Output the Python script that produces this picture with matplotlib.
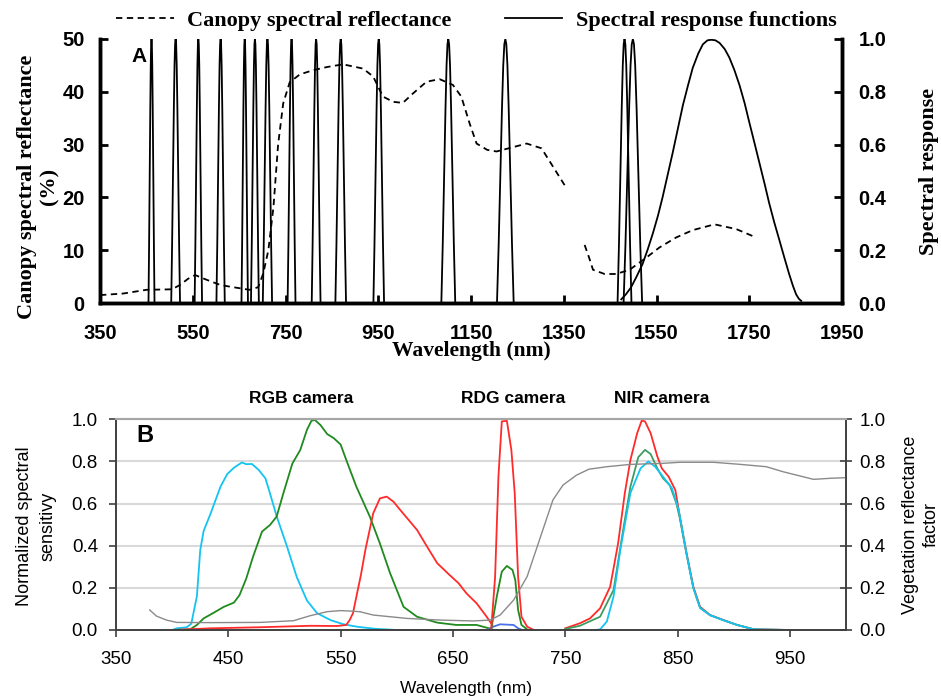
import numpy as np
import matplotlib
matplotlib.use('Agg')
import matplotlib.pyplot as plt
from matplotlib.lines import Line2D

# ---------------- panel A data ----------------
# canopy reflectance (%) - two segments, gap around the 1400 nm water band
refl_nm_1 = [350, 400, 450, 505, 522, 540, 555, 580, 610, 637, 673, 691, 702, 713, 724,
             734, 745, 759, 781, 810, 840, 874, 917, 939, 960, 982, 1003, 1025, 1054,
             1082, 1111, 1129, 1147, 1162, 1185, 1205, 1240, 1270, 1302, 1327, 1352]
refl_val_1 = [1.5, 1.8, 2.5, 2.6, 3.4, 4.6, 5.3, 4.4, 3.4, 3.0, 2.5, 3.0, 5.6, 10.0, 18.2,
              30.0, 37.8, 41.8, 43.3, 44.1, 44.7, 45.2, 44.4, 42.9, 39.1, 38.1, 37.9, 39.7, 41.9,
              42.4, 41.3, 39.1, 34.0, 30.2, 29.0, 28.7, 29.5, 30.2, 29.3, 25.8, 22.3]
refl_nm_2 = [1395, 1405, 1413, 1438, 1463, 1492, 1528, 1556, 1592, 1628, 1675, 1722, 1765]
refl_val_2 = [11.0, 8.5, 6.3, 5.5, 5.5, 6.3, 8.6, 10.5, 12.4, 13.8, 14.9, 14.0, 12.4]

# narrow spectral response functions: centres and base widths (nm)
band_centre = [461, 513, 562, 610, 662, 684, 711, 763, 816, 869, 951, 1101, 1224, 1481, 1499]
band_width = [13, 19, 16, 18, 14, 17, 20, 17, 19, 23, 23, 30, 36, 30, 40]
# shape of one narrow band (fraction of half width -> response)
shape_u = [-1.0, -0.8, -0.6, -0.4, -0.25, -0.12, 0.0, 0.12, 0.25, 0.4, 0.6, 0.8, 1.0]
shape_r = [0.0, 0.22, 0.48, 0.74, 0.9, 0.98, 1.0, 0.98, 0.9, 0.74, 0.48, 0.22, 0.0]

# broad SWIR band
swir_nm = [1474, 1484, 1495, 1507, 1520, 1531, 1542, 1553, 1563, 1574, 1585, 1596, 1607, 1618,
           1628, 1640, 1650, 1660, 1668, 1677, 1686, 1697, 1707, 1718, 1729, 1740, 1750, 1761,
           1772, 1783, 1793, 1804, 1815, 1826, 1836, 1844, 1851, 1857, 1862]
swir_val = [0.014, 0.033, 0.059, 0.100, 0.148, 0.203, 0.263, 0.330, 0.40, 0.485, 0.57, 0.66,
            0.75, 0.825, 0.89, 0.945, 0.98, 0.995, 0.997, 0.995, 0.985, 0.962, 0.93, 0.882, 0.825,
            0.757, 0.685, 0.608, 0.53, 0.452, 0.378, 0.305, 0.238, 0.170, 0.11, 0.066, 0.033,
            0.016, 0.008]

# ---------------- panel B data ----------------
rgb_b_nm = [400, 404, 413, 417, 422, 425, 428, 434, 443, 449, 455, 462, 466, 471, 477, 483, 487,
            493, 502, 511, 520, 529, 541, 552, 564, 580, 600, 650, 700]
rgb_b_val = [0, 0.008, 0.013, 0.03, 0.16, 0.38, 0.47, 0.55, 0.68, 0.74, 0.77, 0.795, 0.787, 0.788,
             0.76, 0.72, 0.65, 0.54, 0.40, 0.25, 0.14, 0.08, 0.047, 0.028, 0.016, 0.006, 0.0, 0.0, 0.0]
rgb_g_nm = [401, 416, 422, 428, 437, 446, 455, 460, 466, 472, 480, 487, 493, 499, 507, 514, 520,
            524, 527, 532, 538, 544, 550, 555, 564, 576, 585, 594, 606, 618, 636, 653, 671, 682, 686]
rgb_g_val = [0, 0.003, 0.024, 0.055, 0.082, 0.11, 0.13, 0.166, 0.245, 0.348, 0.467, 0.498, 0.538,
             0.649, 0.79, 0.854, 0.95, 0.993, 0.997, 0.973, 0.93, 0.91, 0.88, 0.807, 0.68, 0.538,
             0.41, 0.27, 0.11, 0.063, 0.035, 0.024, 0.024, 0.008, 0.0]
rgb_r_nm = [401, 434, 478, 523, 547, 555, 558, 561, 564, 568, 572, 579, 585, 591, 597, 603, 618,
            627, 636, 647, 655, 662, 671, 680, 685]
rgb_r_val = [0, 0.008, 0.013, 0.02, 0.019, 0.024, 0.047, 0.08, 0.158, 0.26, 0.38, 0.554, 0.625,
             0.633, 0.609, 0.57, 0.475, 0.395, 0.317, 0.261, 0.222, 0.174, 0.127, 0.063, 0.024]

rdg_r_nm = [684, 687.5, 690.5, 693.5, 698, 702, 705, 708, 711, 716, 722]
rdg_r_val = [0.0, 0.25, 0.73, 0.99, 0.993, 0.854, 0.649, 0.253, 0.063, 0.016, 0.0]
rdg_g_nm = [684, 689, 693.5, 698, 703, 705.5, 708, 711, 716]
rdg_g_val = [0, 0.158, 0.277, 0.304, 0.285, 0.237, 0.095, 0.024, 0.003]
rdg_b_nm = [680, 686, 692, 704, 708, 712]
rdg_b_val = [0, 0.016, 0.027, 0.024, 0.008, 0]

nir_r_nm = [750, 763, 772, 781, 790, 797, 803, 808, 814, 818, 821, 826, 832, 836, 842, 848, 852,
            858, 864, 870, 879, 891, 903, 918, 950]
nir_r_val = [0.008, 0.032, 0.055, 0.103, 0.206, 0.41, 0.649, 0.807, 0.934, 0.993, 0.99, 0.934,
             0.823, 0.767, 0.728, 0.664, 0.538, 0.364, 0.206, 0.11, 0.071, 0.047, 0.024, 0.003, 0.0]
nir_g_nm = [750, 763, 781, 793, 802, 808, 815, 821, 826, 832, 837, 843, 849, 852, 858, 864, 870,
            879, 891, 903, 918, 950]
nir_g_val = [0.005, 0.02, 0.063, 0.19, 0.49, 0.68, 0.82, 0.855, 0.835, 0.767, 0.72, 0.688, 0.6,
             0.53, 0.36, 0.2, 0.105, 0.07, 0.046, 0.024, 0.003, 0]
nir_b_nm = [777, 781, 787, 793, 799, 808, 817, 824, 830, 837, 845, 851, 858, 864, 870, 879, 891,
            903, 918, 950]
nir_b_val = [0, 0.003, 0.04, 0.16, 0.38, 0.65, 0.767, 0.8, 0.775, 0.728, 0.672, 0.57, 0.36, 0.2,
             0.105, 0.07, 0.046, 0.024, 0.003, 0]

veg_nm = [380, 386, 395, 404, 434, 478, 508, 523, 538, 550, 558, 567, 579, 609, 639, 668, 683,
          692, 704, 716, 728, 739, 748, 760, 771, 787, 808, 837, 852, 882, 906, 929, 944, 956,
          971, 986, 1000]
veg_val = [0.095, 0.066, 0.047, 0.036, 0.035, 0.036, 0.044, 0.068, 0.087, 0.092, 0.09, 0.087,
           0.071, 0.055, 0.047, 0.043, 0.047, 0.071, 0.142, 0.253, 0.443, 0.617, 0.688, 0.735,
           0.763, 0.775, 0.786, 0.791, 0.796, 0.796, 0.786, 0.775, 0.751, 0.735, 0.715, 0.72, 0.723]

cameras = ['RGB camera', 'RDG camera', 'NIR camera']
camera_x = [515, 704, 836]

CYAN = '#13C4F2'
GREEN = '#1F8A1F'
GREEN2 = '#3E9C62'
RED = '#FF2A2A'
BLUE = '#4A72E8'
GREY = '#8A8A8A'

SERIF = 'Liberation Serif'
SANS = 'Liberation Sans'

fig = plt.figure(figsize=(9.41, 7.0), dpi=100)

# ===================== panel A =====================
axA = fig.add_axes([0.1063, 0.5671, 0.7885, 0.3772])
axAr = axA.twinx()

axA.plot(refl_nm_1, refl_val_1, color='black', lw=1.3, ls=(0, (3.5, 2.5)))
axA.plot(refl_nm_2, refl_val_2, color='black', lw=1.3, ls=(0, (3.5, 2.5)))

for c, w in zip(band_centre, band_width):
    xs = [c + u * w / 2.0 for u in shape_u]
    axAr.plot(xs, shape_r, color='black', lw=1.3)
axAr.plot(swir_nm, swir_val, color='black', lw=1.3)

axA.set_xlim(350, 1950)
axA.set_ylim(0, 50)
axAr.set_ylim(0, 1.0)
axA.set_xticks(range(350, 1951, 200))
axA.set_yticks(range(0, 51, 10))
axAr.set_yticks([0, 0.2, 0.4, 0.6, 0.8, 1.0])
axAr.set_yticklabels(['0.0', '0.2', '0.4', '0.6', '0.8', '1.0'])

for ax in (axA, axAr):
    ax.spines['top'].set_visible(False)
    for s in ('left', 'right', 'bottom'):
        ax.spines[s].set_linewidth(2.5)
axA.tick_params(axis='both', direction='in', length=6, width=2, pad=11, labelsize=14.5)
axA.tick_params(axis='x', pad=15)
axAr.tick_params(axis='y', direction='in', length=6, width=2, pad=12, labelsize=14.5)
for lab in axA.get_xticklabels() + axA.get_yticklabels() + axAr.get_yticklabels():
    lab.set_fontfamily(SANS)
    lab.set_fontweight('bold')

axA.set_xlabel('Wavelength (nm)', fontfamily=SERIF, fontweight='bold', fontsize=15.5,
               labelpad=-1)
axA.set_ylabel('Canopy spectral reflectance\n(%)', fontfamily=SERIF, fontweight='bold',
               fontsize=16, linespacing=1.2)
axA.yaxis.set_label_coords(-0.054, 0.44)
axAr.set_ylabel('Spectral response', fontfamily=SERIF, fontweight='bold', fontsize=16,
                rotation=90, labelpad=23)

axA.text(0.053, 0.935, 'A', transform=axA.transAxes, fontfamily=SANS, fontweight='bold',
         fontsize=15, ha='center', va='center')

handles = [Line2D([], [], color='black', lw=1.3, ls=(0, (3.5, 2.5))),
           Line2D([], [], color='black', lw=1.3)]
fig.legend(handles, ['Canopy spectral reflectance', 'Spectral response functions'],
           loc='center', bbox_to_anchor=(0.506, 0.971), ncol=2, frameon=False,
           handlelength=2.6, handletextpad=0.6, columnspacing=2.4,
           prop={'family': SERIF, 'weight': 'bold', 'size': 16})

# ===================== panel B =====================
axB = fig.add_axes([0.1233, 0.1, 0.7758, 0.301])
axBr = axB.twinx()

for yv in [0.2, 0.4, 0.6, 0.8]:
    axB.axhline(yv, color='#d9d9d9', lw=1.5, zorder=0)

axBr.plot(veg_nm, veg_val, color=GREY, lw=1.0)

axB.plot(rgb_b_nm, rgb_b_val, color=CYAN, lw=1.3)
axB.plot(rgb_g_nm, rgb_g_val, color=GREEN, lw=1.3)
axB.plot(rgb_r_nm, rgb_r_val, color=RED, lw=1.3)
axB.plot(rdg_b_nm, rdg_b_val, color=BLUE, lw=1.3)
axB.plot(rdg_g_nm, rdg_g_val, color=GREEN, lw=1.3)
axB.plot(rdg_r_nm, rdg_r_val, color=RED, lw=1.3)
axB.plot(nir_r_nm, nir_r_val, color=RED, lw=1.3)
axB.plot(nir_g_nm, nir_g_val, color=GREEN2, lw=1.3)
axB.plot(nir_b_nm, nir_b_val, color=CYAN, lw=1.3)

axB.set_xlim(350, 1000)
axB.set_ylim(0, 1.0)
axBr.set_ylim(0, 1.0)
axB.set_xticks(range(350, 1000, 100))
ylabs = ['0.0', '0.2', '0.4', '0.6', '0.8', '1.0']
axB.set_yticks([0, 0.2, 0.4, 0.6, 0.8, 1.0])
axB.set_yticklabels(ylabs)
axBr.set_yticks([0, 0.2, 0.4, 0.6, 0.8, 1.0])
axBr.set_yticklabels(ylabs)

for ax in (axB, axBr):
    ax.spines['top'].set_color('#a6a6a6')
    ax.spines['top'].set_linewidth(1.5)
    for s in ('left', 'right', 'bottom'):
        ax.spines[s].set_color('#404040')
        ax.spines[s].set_linewidth(1.2)
axB.tick_params(axis='both', direction='out', length=5, width=1.2, color='#404040',
                labelsize=13.5, pad=8)
axB.tick_params(axis='x', pad=10)
axBr.tick_params(axis='y', direction='inout', length=9, width=1.2, color='#404040',
                 labelsize=13.5, pad=5)
for lab in axB.get_xticklabels() + axB.get_yticklabels() + axBr.get_yticklabels():
    lab.set_fontfamily(SANS)

axB.set_xlabel('Wavelength (nm)', fontfamily=SANS, fontsize=12.5, labelpad=10)
axB.xaxis.set_label_coords(0.479, -0.24)
axB.set_ylabel('Normalized spectral\nsensitivy', fontfamily=SANS, fontsize=13,
               linespacing=1.5)
axB.yaxis.set_label_coords(-0.082, 0.494)
axBr.set_ylabel('Vegetation reflectance\nfactor', fontfamily=SANS, fontsize=13, rotation=90,
                linespacing=1.35)
axBr.yaxis.set_label_coords(1.076, 0.5)

axB.text(0.040, 0.925, 'B', transform=axB.transAxes, fontfamily=SANS, fontweight='bold',
         fontsize=17, ha='center', va='center')
for name, xc in zip(cameras, camera_x):
    axB.text(xc, 1.10, name, transform=axB.get_xaxis_transform(), fontfamily=SANS,
             fontweight='bold', fontsize=12.5, ha='center', va='center')

fig.savefig('out.png', dpi=100)
